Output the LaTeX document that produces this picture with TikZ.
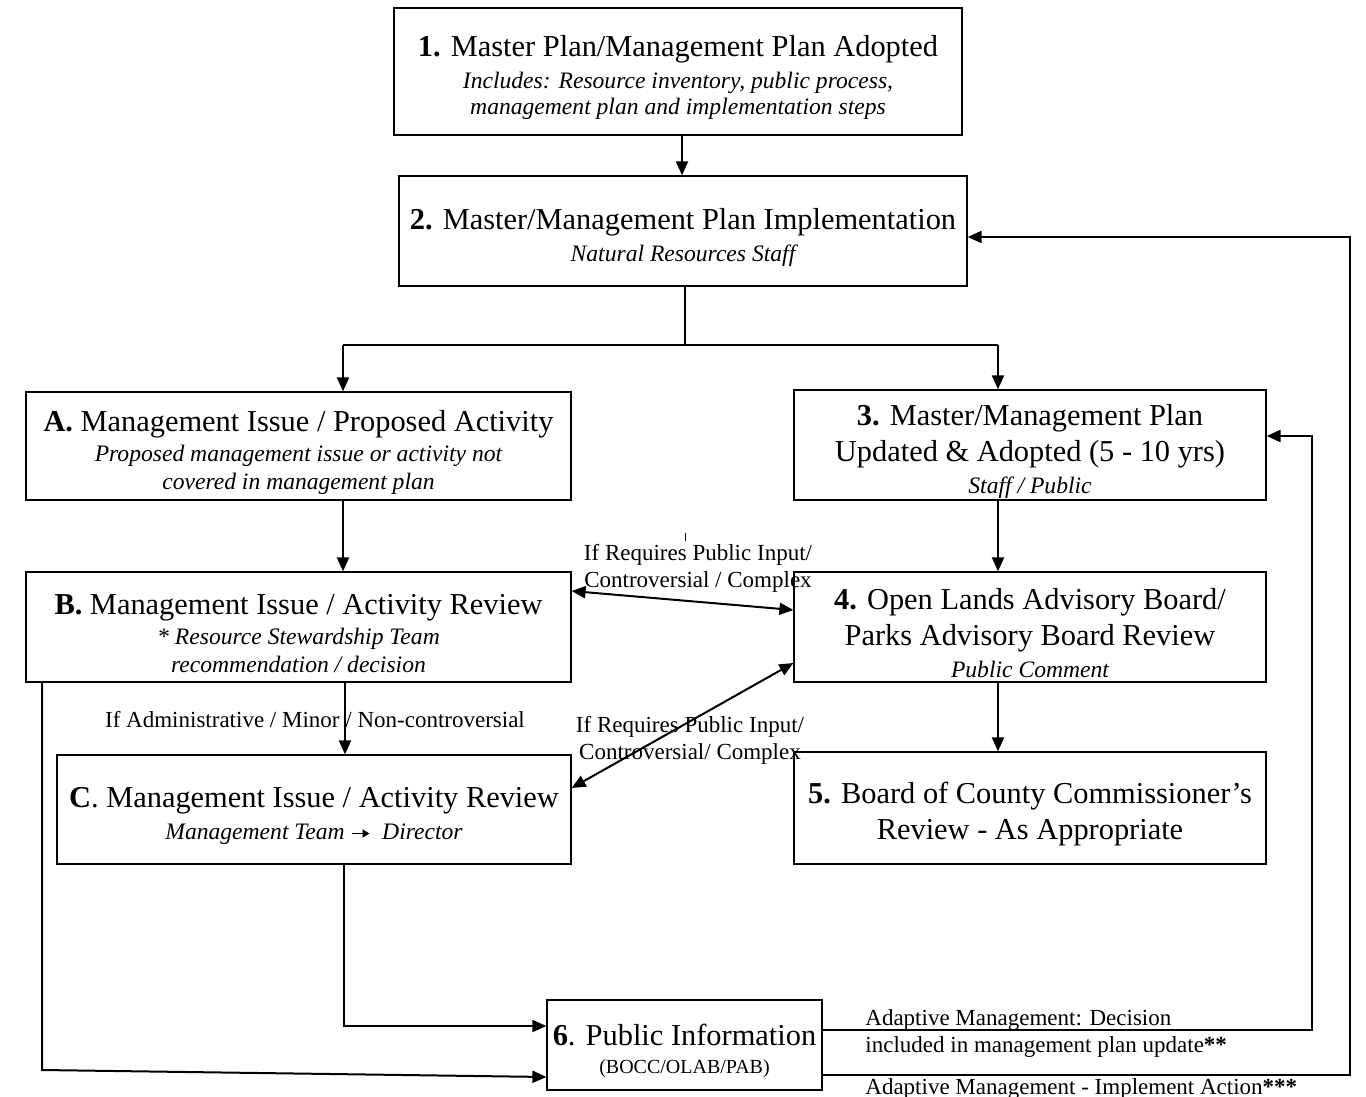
\documentclass[tikz,border=0pt]{standalone}
\usepackage{fontspec}
\setmainfont{Liberation Serif}
\usetikzlibrary{arrows.meta}
\newcommand\subt[1]{{\fontsize{11.8}{14}\selectfont\itshape #1}}
\newcommand\tp{\rule{0pt}{17pt}}
\begin{document}
\begin{tikzpicture}[x=0.5pt,y=-0.5pt,
  box/.style={draw, line width=0.6pt, align=center, inner sep=0pt, font=\fontsize{15.2}{18}\selectfont},
  lbl/.style={align=center, inner sep=0pt, font=\fontsize{11.5}{13.5}\selectfont},
  lblw/.style={anchor=west, inner sep=0pt, font=\fontsize{11.5}{13}\selectfont},
  ln/.style={line width=1pt},
  conn/.style={line width=1pt, -{Triangle[length=7pt,width=6pt]}},
  dbl/.style={line width=1pt, {Triangle[length=7pt,width=6pt]}-{Triangle[length=7pt,width=6pt]}}]
\useasboundingbox (0,0) rectangle (1366,1097);

\node[box, minimum width=284pt, minimum height=63.5pt] (n1) at (678,71.5)
  {\tp\textbf{1.} Master Plan/Management Plan Adopted\\[-2pt]
   \subt{Includes: Resource inventory, public process,}\\[-5pt]
   \subt{management plan and implementation steps}};
\node[box, minimum width=284pt, minimum height=55pt] (n2) at (683,231)
  {\tp\textbf{2.} Master/Management Plan Implementation\\[-2pt]
   \subt{Natural Resources Staff}};
\node[box, minimum width=272.5pt, minimum height=54pt] (nA) at (298.5,446)
  {\tp\textbf{A.} Management Issue / Proposed Activity\\[-3pt]
   \subt{Proposed management issue or activity not}\\[-4pt]
   \subt{covered in management plan}};
\node[box, minimum width=236pt, minimum height=55pt] (n3) at (1030,445)
  {\tp\textbf{3.} Master/Management Plan\\Updated \& Adopted (5 - 10 yrs)\\[-2pt]
   \subt{Staff / Public}};
\node[box, minimum width=272.5pt, minimum height=55pt] (nB) at (298.5,627)
  {\tp\textbf{B.} Management Issue / Activity Review\\[-3pt]
   \subt{* Resource Stewardship Team}\\[-4pt]
   \subt{recommendation / decision}};
\node[box, minimum width=236pt, minimum height=55pt] (n4) at (1030,627)
  {\tp\textbf{4.} Open Lands Advisory Board/\\Parks Advisory Board Review\\[-2pt]
   \subt{Public Comment}};
\node[box, minimum width=257pt, minimum height=54.5pt] (nC) at (314,809.5)
  {\tp\textbf{C}. Management Issue / Activity Review\\[-2pt]
   \subt{Management Team \tikz[baseline=-0.6ex]\draw[line width=0.9pt,-{Triangle[length=3.5pt,width=4pt]}] (0,0) -- (9pt,0);\ \ Director}};
\node[box, minimum width=236pt, minimum height=56pt] (n5) at (1030,808)
  {\tp\textbf{5.} Board of County Commissioner’s\\Review - As Appropriate};
\node[box, minimum width=137.5pt, minimum height=45pt] (n6) at (684.5,1045)
  {\tp\textbf{6}. Public Information\\[-4pt]
   {\fontsize{10}{12}\selectfont (BOCC/OLAB/PAB)}};

\node[lbl] (lab1) at (698,568) {If Requires Public Input/\\Controversial / Complex};
\node[lbl] (lab2) at (690,740) {If Requires Public Input/\\Controversial/ Complex};
\node[lbl] (lab3) at (315,720) {If Administrative / Minor / Non-controversial};
\node[lblw] (lab4) at (865,1020) {Adaptive Management: Decision};
\node[lblw] (lab5) at (865,1047) {included in management plan update\textbf{**}};
\node[lblw] (lab6) at (865,1089) {Adaptive Management - Implement Action\textbf{***}};

\coordinate (sl) at (343,345);
\coordinate (sr) at (998,345);

\draw[conn] (n1.south -| 682,0) -- (n2.north -| 682,0);
\draw[ln] (n2.south -| 685,0) -- (685,345);
\draw[ln] (sl) -- (sr);
\draw[conn] (sl) -- (sl |- nA.north);
\draw[conn] (sr) -- (sr |- n3.north);
\draw[conn] (sl |- nA.south) -- (sl |- nB.north);
\draw[conn] (sr |- n3.south) -- (sr |- n4.north);
\draw[conn] (sr |- n4.south) -- (sr |- n5.north);
\draw[conn] (nB.south -| 345,0) -- (nC.north -| 345,0);
\draw[dbl] (nB.east |- 0,591) -- (n4.west |- 0,610);
\draw[dbl] (nC.east |- 0,788) -- (n4.west |- 0,663);
\draw[conn] (nC.south -| 344,0) -- (344,1026) -- (n6.west |- 0,1026);
\draw[conn] (nB.south -| 42,0) -- (42,1070) -- (n6.west |- 0,1077);
\draw[conn] (n6.east |- 0,1030) -- (1312,1030) -- (1312,436) -- (n3.east |- 0,436);
\draw[conn] (n6.east |- 0,1075) -- (1350,1075) -- (1350,237) -- (n2.east |- 0,237);
\draw[line width=0.4pt] (685,533) -- (685,541);
\end{tikzpicture}
\end{document}
